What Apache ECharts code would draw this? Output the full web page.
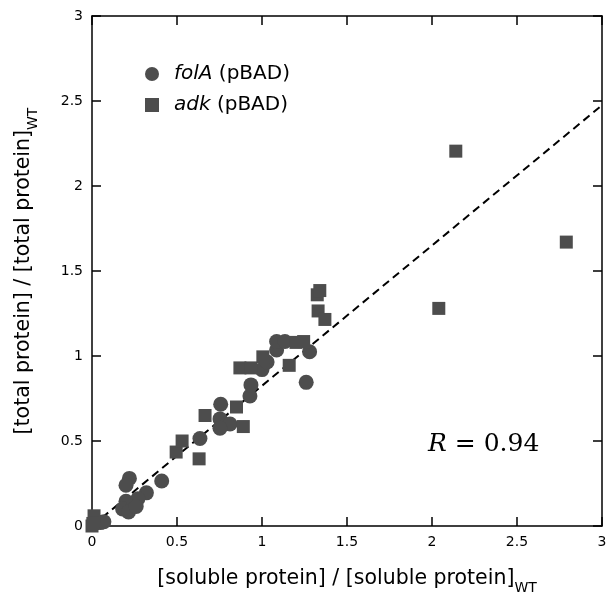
<!DOCTYPE html>
<html>
<head>
<meta charset="utf-8">
<script src="https://cdn.jsdelivr.net/npm/echarts@6/dist/echarts.min.js"></script>
<style>html,body{margin:0;padding:0;background:#fff}#c{width:611px;height:595px}</style>
</head>
<body>
<div id="c"></div>
<script>
const folA = [
  [0.05,0.02],[0.07,0.025],
  [0.22,0.28],[0.20,0.24],[0.41,0.265],[0.32,0.195],[0.27,0.16],[0.20,0.145],
  [0.18,0.10],[0.215,0.083],[0.26,0.115],
  [0.635,0.515],[0.757,0.716],[0.753,0.63],[0.812,0.60],[0.753,0.575],
  [0.929,0.765],[0.935,0.83],[1.0,0.92],[1.03,0.965],[1.086,1.035],
  [1.086,1.085],[1.135,1.085],[1.28,1.025],[1.26,0.845]
];
const adk = [
  [0.0,0.0],[0.012,0.06],[0.005,0.015],
  [0.495,0.435],[0.53,0.50],[0.63,0.395],[0.665,0.65],[0.85,0.70],[0.89,0.585],
  [0.87,0.93],[0.935,0.93],[1.005,0.995],[1.16,0.945],[1.20,1.08],[1.245,1.085],
  [1.325,1.36],[1.34,1.385],[1.33,1.265],[1.37,1.215],
  [2.04,1.28],[2.14,2.205],[2.79,1.67]
];
const fitLine = [[0,0],[3,2.475]];
const ticks = [0,0.5,1,1.5,2,2.5,3];

const chart = echarts.init(document.getElementById('c'), null, {renderer:'canvas'});
const font = 'DejaVu Sans';
const axisCommon = {
  min: 0, max: 3, interval: 0.5,
  axisLine: {show: true, onZero: false, lineStyle: {color: '#000', width: 1.5}},
  axisTick: {show: true, inside: true, length: 9, lineStyle: {color: '#000', width: 1.5}},
  splitLine: {show: false}
};
const fmt = v => (ticks.indexOf(v) >= 0 ? String(v) : '');
const titleRich = {
  a: {fontFamily: font, fontSize: 20.5, color: '#000', verticalAlign: 'bottom', lineHeight: 28},
  s: {fontFamily: font, fontSize: 14, color: '#000', verticalAlign: 'bottom', lineHeight: 28, padding: [0,0,-6,0]}
};
chart.setOption({
  animation: false,
  grid: {left: 92, right: 9, top: 16, bottom: 69, outerBoundsMode: 'none', containLabel: false},
  legend: {
    show: true, orient: 'vertical', left: 140, top: 59, itemGap: 11,
    itemWidth: 14, itemHeight: 14,
    data: [{name: 'folA', icon: 'circle'}, {name: 'adk', icon: 'rect'}],
    formatter: n => '{i|' + n + '} {n|(pBAD)}',
    textStyle: {
      fontFamily: font, fontSize: 20, color: '#000',
      rich: {
        i: {fontFamily: font, fontSize: 20, fontStyle: 'italic', color: '#000', padding: [0,0,0,10]},
        n: {fontFamily: font, fontSize: 20, color: '#000'}
      }
    }
  },
  xAxis: [
    Object.assign({}, axisCommon, {
      type: 'value', position: 'bottom',
      axisLabel: {fontFamily: font, fontSize: 14, color: '#000', margin: 9, formatter: fmt},
      name: '{a|[soluble protein] / [soluble protein]}{s|WT}',
      nameLocation: 'middle', nameGap: 35,
      nameTextStyle: {rich: titleRich}
    }),
    Object.assign({}, axisCommon, {type: 'value', position: 'top', axisLabel: {show: false}})
  ],
  yAxis: [
    Object.assign({}, axisCommon, {
      type: 'value', position: 'left',
      axisLabel: {fontFamily: font, fontSize: 14, color: '#000', margin: 9, formatter: fmt},
      name: '{a|[total protein] / [total protein]}{s|WT}',
      nameLocation: 'middle', nameGap: 58, nameRotate: 90,
      nameTextStyle: {rich: titleRich}
    }),
    Object.assign({}, axisCommon, {type: 'value', position: 'right', axisLabel: {show: false}})
  ],
  series: [
    {
      name: 'fit', type: 'line', data: fitLine, symbol: 'none', silent: true,
      lineStyle: {color: '#000', width: 2, type: [8, 5]}, z: 1
    },
    {
      name: 'folA', type: 'scatter', data: folA, symbol: 'circle', symbolSize: 15,
      itemStyle: {color: '#4d4d4d', opacity: 1}, z: 3
    },
    {
      name: 'adk', type: 'scatter', data: adk, symbol: 'rect', symbolSize: 13,
      itemStyle: {color: '#4d4d4d', opacity: 1}, z: 3
    }
  ],
  graphic: [{
    type: 'text', left: 428, top: 432,
    style: {
      text: '{r|R}{e| = }{n|0.94}',
      rich: {
        r: {fontFamily: 'DejaVu Serif', fontStyle: 'italic', fontSize: 25, fill: '#000'},
        e: {fontFamily: 'DejaVu Serif', fontSize: 25, fill: '#000'},
        n: {fontFamily: 'DejaVu Serif', fontSize: 25, fill: '#000'}
      }
    }
  }]
});
</script>
</body>
</html>
